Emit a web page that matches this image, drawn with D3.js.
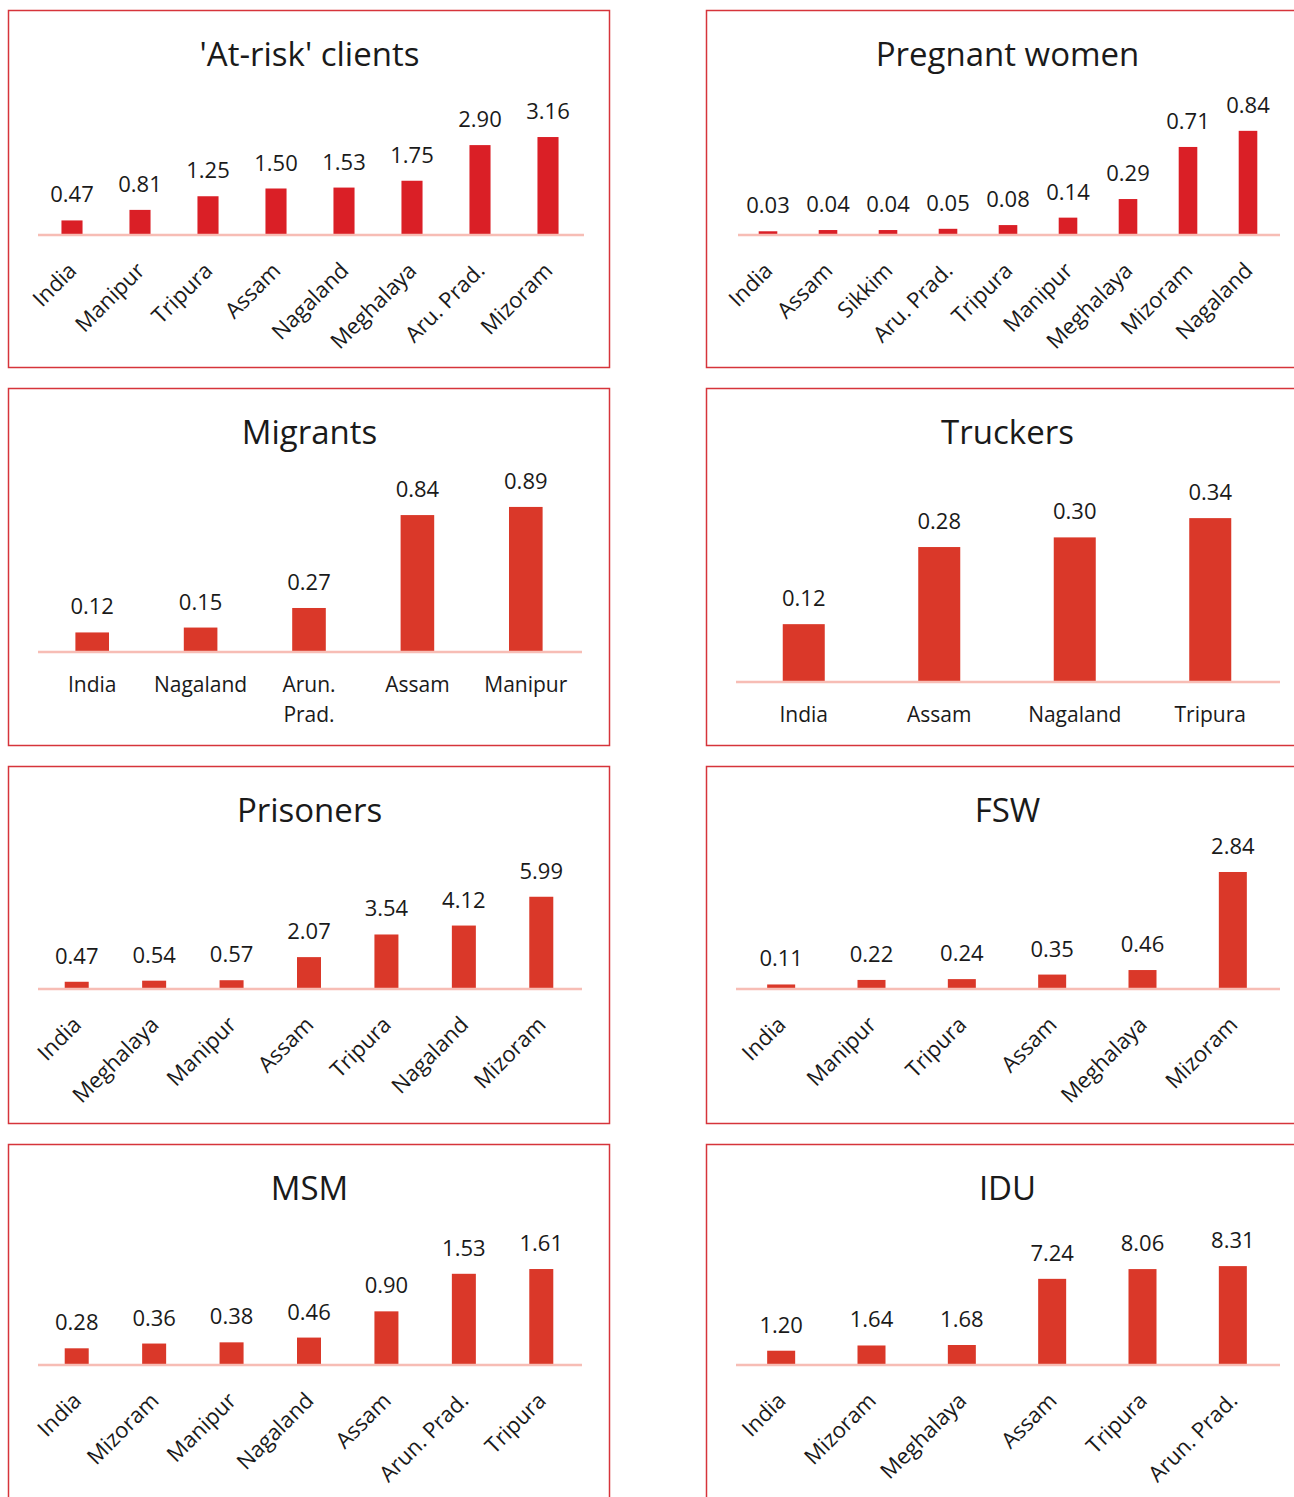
<!DOCTYPE html>
<html>
<head>
<meta charset="utf-8">
<script src="https://cdn.jsdelivr.net/npm/d3@7"></script>
<style>
  body { margin: 0; background: #fff; }
  text { font-family: "Open Sans", "Noto Sans", sans-serif; fill: #1a1a1a; }
</style>
</head>
<body>
<div id="chart"></div>
<script>
// data
const atRiskCats = ["India", "Manipur", "Tripura", "Assam", "Nagaland", "Meghalaya", "Aru. Prad.", "Mizoram"]
const atRiskVals = [0.47, 0.81, 1.25, 1.50, 1.53, 1.75, 2.90, 3.16]

const pregCats = ["India", "Assam", "Sikkim", "Aru. Prad.", "Tripura", "Manipur", "Meghalaya", "Mizoram", "Nagaland"]
const pregVals = [0.03, 0.04, 0.04, 0.05, 0.08, 0.14, 0.29, 0.71, 0.84]

const migrantCats = ["India", "Nagaland", "Arun. Prad.", "Assam", "Manipur"]
const migrantVals = [0.12, 0.15, 0.27, 0.84, 0.89]

const truckerCats = ["India", "Assam", "Nagaland", "Tripura"]
const truckerVals = [0.12, 0.28, 0.30, 0.34]

const prisonerCats = ["India", "Meghalaya", "Manipur", "Assam", "Tripura", "Nagaland", "Mizoram"]
const prisonerVals = [0.47, 0.54, 0.57, 2.07, 3.54, 4.12, 5.99]

const fswCats = ["India", "Manipur", "Tripura", "Assam", "Meghalaya", "Mizoram"]
const fswVals = [0.11, 0.22, 0.24, 0.35, 0.46, 2.84]

const msmCats = ["India", "Mizoram", "Manipur", "Nagaland", "Assam", "Arun. Prad.", "Tripura"]
const msmVals = [0.28, 0.36, 0.38, 0.46, 0.90, 1.53, 1.61]

const iduCats = ["India", "Mizoram", "Meghalaya", "Assam", "Tripura", "Arun. Prad."]
const iduVals = [1.20, 1.64, 1.68, 7.24, 8.06, 8.31]

// panel layout (pixel stuff lives here, not in the data)
const W = 1294, H = 1497
const panelW = 601, panelH = 357
const dark = "#da1f26", orange = "#da3829"

const panels = [
    { title: "'At-risk' clients", cats: atRiskCats, vals: atRiskVals, x: 8, y: 10, base: 225, top: 116.5, max: 3.5, rotate: true, color: dark, x0: 30, x1: 574 },
    { title: "Pregnant women", cats: pregCats, vals: pregVals, x: 706, y: 10, base: 225, top: 113.4, max: 0.9, rotate: true, color: dark, x0: 32, x1: 572 },
    { title: "Migrants", cats: migrantCats, vals: migrantVals, x: 8, y: 388, base: 264, top: 101, max: 1.0, rotate: false, color: orange, x0: 30, x1: 572 },
    { title: "Truckers", cats: truckerCats, vals: truckerVals, x: 706, y: 388, base: 294, top: 101.2, max: 0.4, rotate: false, color: orange, x0: 30, x1: 572 },
    { title: "Prisoners", cats: prisonerCats, vals: prisonerVals, x: 8, y: 766, base: 223, top: 115.2, max: 7, rotate: true, color: orange, x0: 30, x1: 572 },
    { title: "FSW", cats: fswCats, vals: fswVals, x: 706, y: 766, base: 223, top: 99.4, max: 3.0, rotate: true, color: orange, x0: 30, x1: 572 },
    { title: "MSM", cats: msmCats, vals: msmVals, x: 8, y: 1144, base: 221, top: 113.7, max: 1.8, rotate: true, color: orange, x0: 30, x1: 572 },
    { title: "IDU", cats: iduCats, vals: iduVals, x: 706, y: 1144, base: 221, top: 113.9, max: 9, rotate: true, color: orange, x0: 30, x1: 572 }
]

const svg = d3.select("#chart")
    .append("svg")
    .attr("width", W)
    .attr("height", H)

panels.forEach(p => {
    const g = svg.append("g")
        .attr("transform", "translate(" + p.x + "," + p.y + ")")

    // frame
    g.append("rect")
        .attr("x", 0.5).attr("y", 0.5)
        .attr("width", panelW).attr("height", panelH)
        .attr("fill", "none")
        .attr("stroke", "#d6343b")
        .attr("stroke-width", 1.5)

    g.append("text")
        .attr("x", panelW / 2 + 1)
        .attr("y", 56)
        .attr("text-anchor", "middle")
        .style("font-size", "33px")
        .text(p.title)

    const data = p.cats.map((c, i) => ({ cat: c, val: p.vals[i] }))

    const x = d3.scaleBand()
        .domain(p.cats)
        .range([p.x0, p.x1])
        .paddingInner(0.69)
        .paddingOuter(0.345)

    const y = d3.scaleLinear()
        .domain([0, p.max])
        .range([p.base, p.top])

    // bars
    g.selectAll("rect.bar")
        .data(data)
        .enter()
        .append("rect")
        .attr("class", "bar")
        .attr("x", d => x(d.cat))
        .attr("width", x.bandwidth())
        .attr("y", d => y(d.val))
        .attr("height", d => y(0) - y(d.val))
        .attr("fill", p.color)

    // value labels
    g.selectAll("text.val")
        .data(data)
        .enter()
        .append("text")
        .attr("class", "val")
        .attr("x", d => x(d.cat) + x.bandwidth() / 2)
        .attr("y", d => y(d.val) - 18)
        .attr("text-anchor", "middle")
        .style("font-size", "22px")
        .text(d => d3.format(".2f")(d.val))

    // category axis, just the pale baseline
    const axis = g.append("g")
        .attr("transform", "translate(0," + p.base + ")")
        .call(d3.axisBottom(x).tickSize(0).tickFormat(""))
    axis.select(".domain")
        .attr("d", "M" + p.x0 + ",0H" + (p.x1 + 2))
        .attr("stroke", "#f7bdb5")
        .attr("stroke-width", 2.5)

    const labels = g.selectAll("text.cat")
        .data(data)
        .enter()
        .append("text")
        .attr("class", "cat")

    if (p.rotate) {
        labels
            .style("font-size", "22px")
            .attr("text-anchor", "end")
            .attr("transform", d => "translate(" + (x(d.cat) + x.bandwidth() / 2 + 6) + "," + (p.base + 37) + ") rotate(-45)")
            .text(d => d.cat)
    } else {
        labels
            .style("font-size", "21px")
            .attr("text-anchor", "middle")
            .attr("x", d => x(d.cat) + x.bandwidth() / 2)
            .attr("y", p.base + 40)
            .each(function (d) {
                // "Arun. Prad." wraps onto two lines in the original
                const parts = d.cat.indexOf(" ") > 0 ? d.cat.split(" ") : [d.cat]
                const t = d3.select(this)
                parts.forEach((w, i) => {
                    t.append("tspan")
                        .attr("x", x(d.cat) + x.bandwidth() / 2)
                        .attr("dy", i == 0 ? 0 : 30)
                        .text(w)
                })
            })
    }
})
</script>
</body>
</html>
